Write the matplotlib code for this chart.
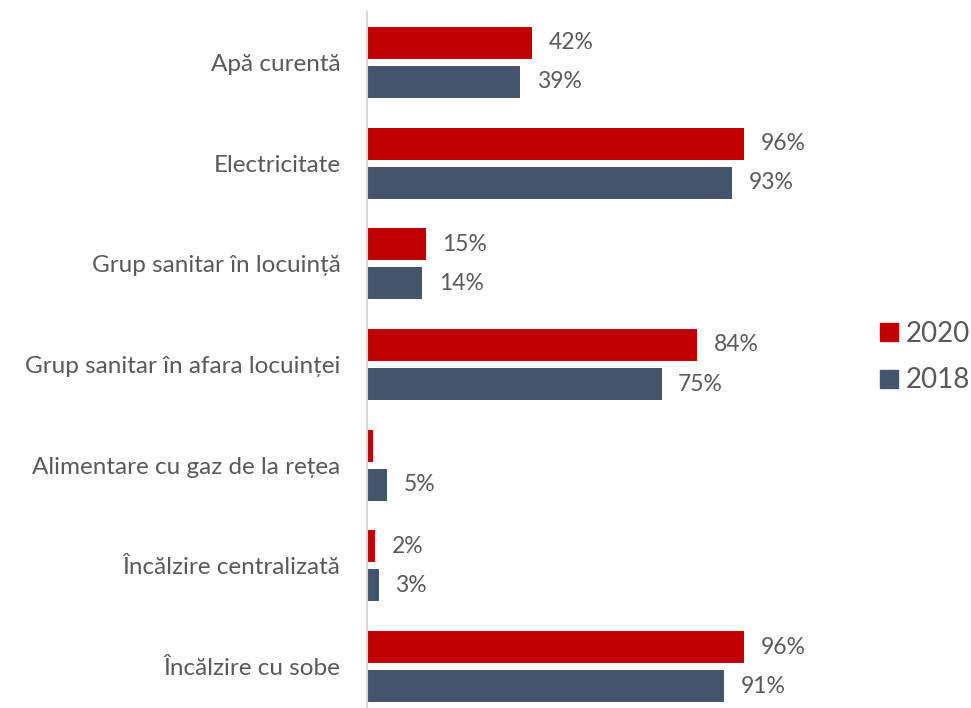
import numpy as np
import matplotlib.pyplot as plt
from matplotlib.lines import Line2D

plt.rcParams['font.family'] = ['Lato', 'DejaVu Sans']

categories = ['Apă curentă', 'Electricitate', 'Grup sanitar în locuință',
              'Grup sanitar în afara locuinței', 'Alimentare cu gaz de la rețea',
              'Încălzire centralizată', 'Încălzire cu sobe']
val_2020 = [42, 96, 15, 84, 1.5, 2, 96]
val_2018 = [39, 93, 14, 75, 5, 3, 91]
lab_2020 = ['42%', '96%', '15%', '84%', '', '2%', '96%']
lab_2018 = ['39%', '93%', '14%', '75%', '5%', '3%', '91%']

red = '#C00000'
slate = '#44546A'
grey = '#595959'

W, H = 971, 708
fig = plt.figure(figsize=(W / 100, H / 100), dpi=100)
# axes in pixel terms: x from 368, y spans 12..717
x0, xmax = 367, 110
px_per = 377 / 96
ax = fig.add_axes([x0 / W, (H - 717) / H, xmax * px_per / W, 705 / H])

y = np.arange(len(categories))
h = 0.318
off = 0.194
b1 = ax.barh(y - off, val_2020, height=h, color=red)
b2 = ax.barh(y + off, val_2018, height=h, color=slate)

for bars, labs in ((b1, lab_2020), (b2, lab_2018)):
    for bar, t in zip(bars, labs):
        if t:
            ax.annotate(t, (bar.get_width(), bar.get_y() + bar.get_height() / 2),
                        xytext=(12, 0), textcoords='offset points',
                        va='center', ha='left', fontsize=16.5, color=grey,
                        annotation_clip=False)

ax.set_ylim(len(categories) - 0.5, -0.5)
ax.set_xlim(0, xmax)
ax.set_yticks(y)
ax.set_yticklabels(categories, fontsize=17.5, color=grey)
ax.tick_params(axis='y', length=0, pad=19)
ax.set_xticks([])
for s in ['top', 'right', 'bottom']:
    ax.spines[s].set_visible(False)
ax.spines['left'].set_color('#d9d9d9')
ax.spines['left'].set_linewidth(1.5)

handles = [Line2D([], [], marker='s', ls='', color=red, markersize=13),
           Line2D([], [], marker='s', ls='', color=slate, markersize=13)]
fig.legend(handles, ['2020', '2018'], loc='center left',
           bbox_to_anchor=(870 / W, 1 - 357 / H), frameon=False,
           fontsize=20, labelcolor=grey, handlelength=0.6, handletextpad=0.3,
           labelspacing=0.75, borderaxespad=0)

fig.savefig('out.png', dpi=100)
